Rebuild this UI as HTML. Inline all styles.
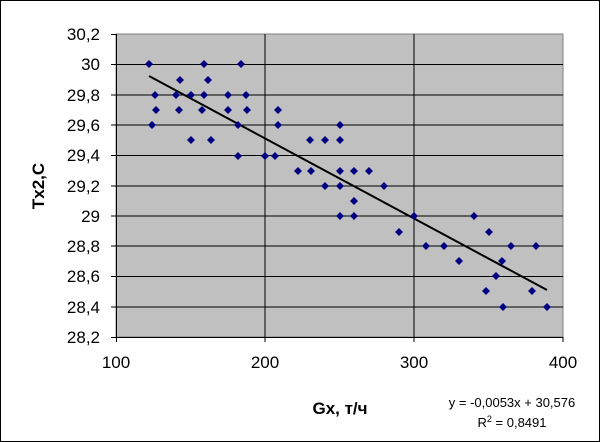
<!DOCTYPE html>
<html><head><meta charset="utf-8"><style>
body{margin:0;background:#fff}
svg{display:block;font-family:"Liberation Sans",Arial,sans-serif}
</style></head><body>
<svg width="600" height="442" viewBox="0 0 600 442">
<rect x="0.5" y="0.5" width="599" height="441" fill="#fff" stroke="#000"/>
<rect x="116" y="34" width="447" height="303" fill="#c0c0c0" stroke="#808080"/>
<g stroke="#000" stroke-width="1">
<line x1="116" y1="64.5" x2="563" y2="64.5"/>
<line x1="116" y1="95" x2="563" y2="95"/>
<line x1="116" y1="125" x2="563" y2="125"/>
<line x1="116" y1="155.5" x2="563" y2="155.5"/>
<line x1="116" y1="186" x2="563" y2="186"/>
<line x1="116" y1="216" x2="563" y2="216"/>
<line x1="116" y1="246" x2="563" y2="246"/>
<line x1="116" y1="276.5" x2="563" y2="276.5"/>
<line x1="116" y1="307" x2="563" y2="307"/>
<line x1="265" y1="34" x2="265" y2="337"/>
<line x1="414" y1="34" x2="414" y2="337"/>
<line x1="116.5" y1="34" x2="116.5" y2="342"/>
<line x1="111" y1="337.5" x2="563" y2="337.5"/>
<line x1="111" y1="34.5" x2="116" y2="34.5"/>
<line x1="111" y1="64.5" x2="116" y2="64.5"/>
<line x1="111" y1="95" x2="116" y2="95"/>
<line x1="111" y1="125" x2="116" y2="125"/>
<line x1="111" y1="155.5" x2="116" y2="155.5"/>
<line x1="111" y1="186" x2="116" y2="186"/>
<line x1="111" y1="216" x2="116" y2="216"/>
<line x1="111" y1="246" x2="116" y2="246"/>
<line x1="111" y1="276.5" x2="116" y2="276.5"/>
<line x1="111" y1="307" x2="116" y2="307"/>
<line x1="265" y1="337" x2="265" y2="342"/>
<line x1="414" y1="337" x2="414" y2="342"/>
<line x1="563" y1="337" x2="563" y2="342"/>
</g>
<line x1="149" y1="76" x2="547" y2="290" stroke="#000" stroke-width="2"/>
<g fill="#000080">
<script>/*points*/</script>
</g>
<g id="pts" fill="#000080"></g>
<g fill="#000080">
<path d="M149 60l4 4-4 4-4-4zM204 60l4 4-4 4-4-4zM241 60l4 4-4 4-4-4zM180 76l4 4-4 4-4-4zM208 76l4 4-4 4-4-4zM155 91l4 4-4 4-4-4zM176 91l4 4-4 4-4-4zM191 91l4 4-4 4-4-4zM204 91l4 4-4 4-4-4zM228 91l4 4-4 4-4-4zM246 91l4 4-4 4-4-4zM156 106l4 4-4 4-4-4zM179 106l4 4-4 4-4-4zM202 106l4 4-4 4-4-4zM228 106l4 4-4 4-4-4zM247 106l4 4-4 4-4-4zM278 106l4 4-4 4-4-4zM152 121l4 4-4 4-4-4zM238 121l4 4-4 4-4-4zM278 121l4 4-4 4-4-4zM340 121l4 4-4 4-4-4zM191 136l4 4-4 4-4-4zM211 136l4 4-4 4-4-4zM310 136l4 4-4 4-4-4zM325 136l4 4-4 4-4-4zM340 136l4 4-4 4-4-4zM238 152l4 4-4 4-4-4zM265 152l4 4-4 4-4-4zM275 152l4 4-4 4-4-4zM298 167l4 4-4 4-4-4zM311 167l4 4-4 4-4-4zM340 167l4 4-4 4-4-4zM354 167l4 4-4 4-4-4zM369 167l4 4-4 4-4-4zM325 182l4 4-4 4-4-4zM340 182l4 4-4 4-4-4zM384 182l4 4-4 4-4-4zM354 197l4 4-4 4-4-4zM340 212l4 4-4 4-4-4zM354 212l4 4-4 4-4-4zM414 212l4 4-4 4-4-4zM474 212l4 4-4 4-4-4zM399 228l4 4-4 4-4-4zM489 228l4 4-4 4-4-4zM426 242l4 4-4 4-4-4zM444 242l4 4-4 4-4-4zM511 242l4 4-4 4-4-4zM536 242l4 4-4 4-4-4zM459 257l4 4-4 4-4-4zM502 257l4 4-4 4-4-4zM496 272l4 4-4 4-4-4zM486 287l4 4-4 4-4-4zM532 287l4 4-4 4-4-4zM503 303l4 4-4 4-4-4zM547 303l4 4-4 4-4-4z"/>
</g>
<g font-size="17" text-anchor="end">
<text x="100" y="40">30,2</text><text x="100" y="70">30</text><text x="100" y="101">29,8</text>
<text x="100" y="131">29,6</text><text x="100" y="161">29,4</text><text x="100" y="192">29,2</text>
<text x="100" y="222">29</text><text x="100" y="252">28,8</text><text x="100" y="282">28,6</text>
<text x="100" y="313">28,4</text><text x="100" y="343">28,2</text>
</g>
<g font-size="17" text-anchor="middle">
<text x="116" y="368">100</text><text x="265" y="368">200</text><text x="414" y="368">300</text><text x="563" y="368">400</text>
</g>
<text x="340" y="414" font-size="17" font-weight="bold" text-anchor="middle">Gx, т/ч</text>
<text transform="translate(44,186) rotate(-90)" font-size="17" font-weight="bold" text-anchor="middle">Tx2,C</text>
<text x="512" y="407" font-size="13" text-anchor="middle">y = -0,0053x + 30,576</text>
<text x="512" y="427" font-size="13" text-anchor="middle">R<tspan font-size="9" dy="-5">2</tspan><tspan dy="5"> = 0,8491</tspan></text>
</svg>
</body></html>
